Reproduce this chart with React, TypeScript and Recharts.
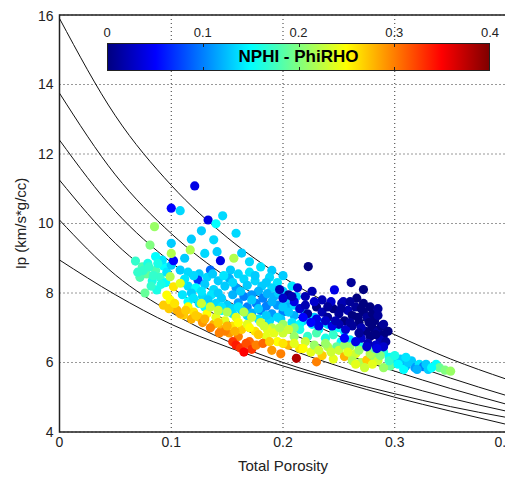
import React from "react";
import {
  ComposedChart,
  Line,
  Scatter,
  XAxis,
  YAxis,
  CartesianGrid,
  ReferenceArea,
} from "recharts";

// ---------- data ----------
const xTicks = [0, 0.1, 0.2, 0.3, 0.4];
const yTicks = [4, 6, 8, 10, 12, 14, 16];
const colorbarTicks = [0, 0.1, 0.2, 0.3, 0.4];

const curveX = [0, 0.05, 0.1, 0.15, 0.2, 0.25, 0.3, 0.35, 0.4];
const curve1 = [15.9, 13.1, 11.1, 9.6, 8.45, 7.55, 6.8, 6.1, 5.52];
const curve2 = [13.75, 11.4, 9.71, 8.45, 7.52, 6.76, 6.12, 5.55, 5.05];
const curve3 = [12.4, 10.35, 8.88, 7.78, 6.93, 6.3, 5.75, 5.25, 4.8];
const curve4 = [11.25, 9.43, 8.16, 7.2, 6.46, 5.89, 5.41, 4.97, 4.6];
const curve5 = [10.1, 8.52, 7.44, 6.62, 6.0, 5.51, 5.1, 4.73, 4.42];
const curve6 = [8.95, 7.95, 7.1, 6.45, 5.9, 5.45, 5.0, 4.6, 4.22];

// [porosity, Ip, NPHI-PhiRHO]
const greenLeft = [
  [0.068, 8.92, 0.17], [0.074, 8.75, 0.18], [0.079, 8.85, 0.16], [0.086, 8.65, 0.18],
  [0.078, 8.55, 0.19], [0.093, 8.78, 0.15], [0.09, 8.45, 0.17], [0.072, 8.45, 0.18],
  [0.083, 8.35, 0.16], [0.096, 8.6, 0.14], [0.0765, 8.0, 0.19], [0.087, 8.09, 0.16],
  [0.082, 8.2, 0.17], [0.095, 8.3, 0.15], [0.099, 8.47, 0.22], [0.092, 8.95, 0.14],
  [0.086, 9.05, 0.15], [0.1, 8.8, 0.13], [0.075, 8.65, 0.17], [0.08, 8.75, 0.17],
  [0.088, 8.85, 0.16], [0.084, 8.5, 0.17], [0.091, 8.25, 0.16], [0.07, 8.6, 0.17],
];

const upperScatter = [
  [0.121, 11.08, 0.04], [0.1, 10.44, 0.05], [0.108, 10.37, 0.135], [0.133, 10.1, 0.04],
  [0.146, 10.22, 0.135], [0.14, 9.99, 0.15], [0.085, 9.91, 0.21], [0.158, 9.72, 0.135],
  [0.127, 9.79, 0.13], [0.118, 9.55, 0.13], [0.138, 9.53, 0.135], [0.1, 9.43, 0.13],
  [0.081, 9.38, 0.2], [0.117, 9.24, 0.22], [0.13, 9.14, 0.135], [0.141, 9.19, 0.13],
  [0.156, 9.0, 0.22], [0.144, 8.93, 0.04], [0.102, 8.93, 0.05], [0.1, 9.14, 0.22],
  [0.112, 9.0, 0.13], [0.108, 8.66, 0.13], [0.135, 8.66, 0.09], [0.153, 8.66, 0.13],
  [0.17, 8.9, 0.135], [0.163, 9.15, 0.13], [0.18, 8.75, 0.14], [0.19, 8.65, 0.13],
  [0.175, 8.35, 0.135], [0.181, 8.2, 0.13],
];

const cyanMain = [
  [0.115, 8.6, 0.135], [0.125, 8.55, 0.13], [0.16, 8.55, 0.135], [0.17, 8.6, 0.14], [0.2, 8.5, 0.13],
  [0.112, 8.4, 0.14], [0.124, 8.37, 0.07], [0.132, 8.45, 0.135], [0.142, 8.35, 0.13],
  [0.152, 8.42, 0.12], [0.165, 8.4, 0.135], [0.188, 8.45, 0.135], [0.195, 8.3, 0.14],
  [0.115, 8.2, 0.135], [0.122, 8.15, 0.15], [0.13, 8.25, 0.13], [0.138, 8.1, 0.135],
  [0.148, 8.2, 0.13], [0.158, 8.15, 0.11], [0.168, 8.22, 0.13], [0.178, 8.05, 0.12],
  [0.19, 8.15, 0.135], [0.2, 8.05, 0.13], [0.208, 8.2, 0.14],
  [0.11, 7.95, 0.14], [0.118, 8.0, 0.13], [0.128, 7.9, 0.135], [0.136, 7.95, 0.14],
  [0.145, 7.85, 0.13], [0.155, 7.95, 0.12], [0.165, 7.9, 0.1], [0.172, 7.95, 0.11],
  [0.182, 7.85, 0.1], [0.192, 7.9, 0.12], [0.202, 7.8, 0.13], [0.212, 7.9, 0.135],
  [0.115, 7.75, 0.15], [0.125, 7.7, 0.14], [0.133, 7.8, 0.13], [0.14, 7.7, 0.135],
  [0.15, 7.65, 0.13], [0.16, 7.72, 0.11], [0.168, 7.6, 0.1], [0.176, 7.7, 0.1],
  [0.185, 7.62, 0.1], [0.195, 7.65, 0.11], [0.205, 7.6, 0.12], [0.215, 7.55, 0.13],
  [0.145, 7.5, 0.15], [0.155, 7.4, 0.14], [0.163, 7.5, 0.13], [0.172, 7.42, 0.12],
  [0.18, 7.5, 0.1], [0.19, 7.4, 0.11], [0.2, 7.45, 0.1], [0.21, 7.35, 0.12],
  [0.22, 7.4, 0.135], [0.228, 7.3, 0.13],
  [0.178, 7.25, 0.14], [0.188, 7.2, 0.135], [0.198, 7.25, 0.13], [0.208, 7.15, 0.14],
  [0.218, 7.2, 0.13], [0.226, 7.1, 0.14], [0.235, 7.15, 0.135], [0.245, 7.0, 0.14],
  [0.232, 6.95, 0.15], [0.255, 6.9, 0.14],
];

const cyanFill = [
  [0.12, 8.5, 0.135], [0.137, 8.55, 0.13], [0.147, 8.5, 0.14], [0.175, 8.5, 0.13],
  [0.185, 8.3, 0.13], [0.155, 8.3, 0.135], [0.127, 8.05, 0.14], [0.142, 8.0, 0.13],
  [0.162, 8.05, 0.13], [0.186, 7.98, 0.12], [0.196, 8.0, 0.13], [0.12, 7.85, 0.14],
  [0.13, 7.6, 0.15], [0.145, 7.6, 0.14], [0.155, 7.55, 0.135], [0.172, 7.8, 0.13],
  [0.19, 7.75, 0.12], [0.2, 7.6, 0.13], [0.21, 7.65, 0.135], [0.168, 7.35, 0.135],
  [0.185, 7.35, 0.13], [0.195, 7.3, 0.135], [0.205, 7.45, 0.13], [0.215, 7.1, 0.15],
  [0.225, 7.25, 0.135], [0.24, 7.1, 0.14], [0.25, 7.0, 0.15], [0.16, 7.6, 0.14],
  [0.178, 7.55, 0.13], [0.11, 8.3, 0.14],
];

const orangeLeft = [
  [0.093, 7.65, 0.27], [0.096, 7.94, 0.25], [0.105, 7.51, 0.28], [0.111, 7.37, 0.27],
  [0.102, 8.18, 0.26], [0.108, 8.28, 0.24], [0.099, 7.8, 0.25], [0.115, 7.6, 0.25],
  [0.12, 7.45, 0.26], [0.118, 7.25, 0.28], [0.125, 7.3, 0.27], [0.128, 7.15, 0.29],
  [0.132, 7.4, 0.25], [0.138, 7.1, 0.28], [0.14, 7.3, 0.24], [0.145, 6.95, 0.28],
  [0.148, 7.2, 0.24], [0.152, 6.85, 0.29], [0.155, 7.05, 0.26], [0.135, 7.6, 0.23],
  [0.127, 7.7, 0.23], [0.142, 7.5, 0.23], [0.15, 7.45, 0.22], [0.158, 7.3, 0.24],
  [0.16, 6.75, 0.3], [0.163, 6.95, 0.27], [0.168, 7.1, 0.24], [0.17, 6.6, 0.31],
  [0.098, 7.55, 0.27], [0.103, 7.7, 0.26], [0.108, 7.4, 0.28], [0.113, 7.5, 0.27],
  [0.122, 7.35, 0.27], [0.13, 7.25, 0.28], [0.135, 7.0, 0.3], [0.142, 7.15, 0.27],
  [0.148, 6.9, 0.3], [0.15, 7.05, 0.28], [0.157, 6.9, 0.28], [0.143, 6.85, 0.3],
  [0.155, 6.6, 0.33], [0.158, 6.5, 0.34], [0.162, 6.42, 0.33], [0.167, 6.55, 0.32],
  [0.172, 6.38, 0.33], [0.176, 6.5, 0.3], [0.165, 6.3, 0.35],
];

const yellowBand = [
  [0.175, 6.9, 0.26], [0.18, 7.15, 0.23], [0.185, 6.75, 0.24], [0.19, 7.0, 0.22],
  [0.195, 6.6, 0.25], [0.2, 6.85, 0.23], [0.205, 6.5, 0.28], [0.21, 6.75, 0.21],
  [0.212, 6.12, 0.38], [0.215, 6.4, 0.26], [0.22, 6.6, 0.23], [0.225, 6.3, 0.24],
  [0.23, 6.02, 0.3], [0.228, 6.5, 0.21], [0.235, 6.2, 0.27], [0.24, 6.45, 0.22],
  [0.245, 6.1, 0.24], [0.25, 6.35, 0.23], [0.255, 6.17, 0.28], [0.26, 6.45, 0.21],
  [0.265, 6.25, 0.24], [0.27, 6.0, 0.22], [0.275, 6.07, 0.27], [0.28, 6.2, 0.21],
  [0.182, 6.55, 0.31], [0.19, 6.35, 0.29], [0.198, 6.25, 0.3], [0.186, 6.95, 0.24],
  [0.2, 7.1, 0.21], [0.21, 7.0, 0.2], [0.172, 7.3, 0.23], [0.165, 7.45, 0.22],
  [0.16, 7.15, 0.25], [0.17, 7.0, 0.25], [0.178, 6.8, 0.27], [0.183, 7.05, 0.23],
  [0.192, 6.85, 0.24], [0.197, 7.0, 0.22], [0.205, 6.95, 0.23], [0.188, 6.6, 0.27],
  [0.2, 6.55, 0.26], [0.21, 6.55, 0.24], [0.218, 6.4, 0.25], [0.232, 6.35, 0.23],
  [0.238, 6.55, 0.21], [0.243, 6.3, 0.23], [0.255, 6.5, 0.21], [0.262, 6.2, 0.23],
];

const tealMid = [
  [0.215, 6.95, 0.16], [0.222, 6.75, 0.17], [0.23, 6.85, 0.18], [0.238, 6.7, 0.16],
  [0.245, 6.8, 0.17], [0.252, 6.6, 0.15], [0.248, 6.45, 0.19], [0.26, 6.65, 0.14],
  [0.268, 6.5, 0.16],
];

const lowerRight = [
  [0.258, 6.3, 0.24], [0.262, 6.05, 0.22], [0.268, 6.35, 0.21], [0.278, 6.25, 0.22],
  [0.285, 6.05, 0.23], [0.282, 6.4, 0.19], [0.29, 6.3, 0.16], [0.295, 6.15, 0.15],
  [0.3, 6.0, 0.14], [0.296, 5.9, 0.19], [0.305, 6.1, 0.13], [0.31, 5.9, 0.12],
  [0.315, 6.05, 0.13], [0.318, 5.85, 0.11], [0.322, 5.95, 0.14], [0.3255, 5.88, 0.1],
  [0.33, 5.8, 0.13], [0.337, 5.95, 0.15], [0.34, 5.85, 0.19], [0.345, 5.78, 0.2],
  [0.35, 5.75, 0.21], [0.308, 5.8, 0.15], [0.29, 5.85, 0.21], [0.28, 5.95, 0.24],
  [0.273, 5.85, 0.23], [0.295, 6.05, 0.17], [0.303, 5.95, 0.15], [0.312, 6.0, 0.13],
  [0.32, 5.8, 0.12], [0.328, 5.95, 0.13], [0.333, 5.85, 0.15], [0.287, 6.2, 0.2],
  [0.3, 6.2, 0.16], [0.265, 5.95, 0.24], [0.31, 6.15, 0.14],
];

const navy = [
  [0.2226, 8.76, 0.0], [0.246, 8.09, 0.04], [0.2525, 7.7, 0.01], [0.261, 8.3, 0.01],
  [0.272, 8.1, 0.0], [0.254, 7.75, 0.02], [0.266, 7.85, 0.0],
  [0.197, 8.1, 0.02], [0.205, 7.95, 0.01], [0.213, 8.15, 0.03], [0.22, 7.9, 0.02],
  [0.226, 8.05, 0.02], [0.21, 7.75, 0.04], [0.2, 7.85, 0.03],
  [0.215, 7.55, 0.03], [0.222, 7.4, 0.01], [0.23, 7.6, 0.0], [0.235, 7.45, 0.02],
  [0.24, 7.3, 0.01], [0.245, 7.55, 0.0], [0.25, 7.4, 0.01], [0.255, 7.2, 0.0],
  [0.258, 7.5, 0.02], [0.262, 7.35, 0.0], [0.265, 7.6, 0.01], [0.268, 7.15, 0.0],
  [0.272, 7.45, 0.0], [0.275, 7.3, 0.01], [0.278, 7.6, 0.0], [0.28, 7.0, 0.0],
  [0.282, 7.2, 0.0], [0.285, 6.9, 0.01], [0.288, 7.05, 0.0], [0.29, 6.8, 0.0],
  [0.287, 6.65, 0.02], [0.292, 6.6, 0.01], [0.283, 6.5, 0.03], [0.278, 6.75, 0.0],
  [0.274, 6.9, 0.0], [0.27, 7.0, 0.02], [0.262, 7.05, 0.01], [0.256, 6.95, 0.03],
  [0.25, 7.1, 0.02], [0.244, 7.05, 0.04], [0.238, 7.2, 0.03], [0.23, 7.25, 0.04],
  [0.225, 7.15, 0.05], [0.218, 7.3, 0.05], [0.27, 6.7, 0.03], [0.276, 6.55, 0.02],
  [0.265, 6.6, 0.04], [0.255, 6.7, 0.05], [0.26, 7.75, 0.01], [0.272, 7.7, 0.0],
  [0.28, 7.4, 0.0], [0.235, 7.8, 0.02], [0.243, 7.75, 0.03], [0.29, 6.45, 0.03],
  [0.284, 6.4, 0.04], [0.232, 7.05, 0.04], [0.247, 7.2, 0.02], [0.252, 7.55, 0.01],
  [0.26, 7.15, 0.01], [0.267, 7.3, 0.0], [0.277, 7.15, 0.0], [0.285, 7.35, 0.01],
  [0.29, 7.1, 0.01], [0.294, 6.9, 0.0], [0.283, 6.8, 0.0], [0.275, 6.45, 0.03],
  [0.268, 6.85, 0.01], [0.24, 7.6, 0.01], [0.228, 7.75, 0.03], [0.22, 7.65, 0.02],
  [0.208, 7.9, 0.02], [0.27, 7.55, 0.0], [0.285, 7.55, 0.01],
];

// ---------- helpers ----------
const toCurve = (ys: number[]) => curveX.map((x, i) => ({ x, y: ys[i] }));
const toPts = (arr: number[][]) => arr.map(([x, y, v]) => ({ x, y, v }));

const clamp = (t: number) => Math.max(0, Math.min(1, t));
function jet(val: number): string {
  const t = clamp(val / 0.4);
  const r = clamp(1.5 - Math.abs(4 * t - 3));
  const g = clamp(1.5 - Math.abs(4 * t - 2));
  const b = clamp(1.5 - Math.abs(4 * t - 1));
  return `rgb(${Math.round(r * 255)},${Math.round(g * 255)},${Math.round(b * 255)})`;
}

const Dot = (p: any) => {
  if (p.cx == null || p.cy == null) return null;
  return <circle cx={p.cx} cy={p.cy} r={4.6} fill={jet(p.payload.v)} />;
};

const FONT = "'Liberation Sans', Arial, Helvetica, sans-serif";
const TXT = "#222";

const curves = [curve1, curve2, curve3, curve4, curve5, curve6];
const groups = [greenLeft, upperScatter, cyanMain, cyanFill, tealMid, orangeLeft, yellowBand, lowerRight, navy];

const W = 505;
const H = 469;

export default function App() {
  return (
    <div style={{ position: "relative", width: W, height: H, background: "#fff" }}>
      <ComposedChart
        width={W}
        height={H}
        margin={{ top: 7, right: 6.5, bottom: 0, left: 11.5 }}
      >
        <CartesianGrid stroke="#333" strokeDasharray="1 3" />
        <XAxis
          type="number"
          dataKey="x"
          domain={[0, 0.4]}
          ticks={xTicks}
          allowDataOverflow
          height={45}
          tickLine={false}
          axisLine={false}
          tickSize={0}
          tickMargin={5}
          tick={{ fontFamily: FONT, fontSize: 14, fill: TXT }}
          label={{
            content: (props: any) => {
              const vb = props.viewBox || { x: 0, y: 0, width: 0, height: 0 };
              return (
                <text
                  x={vb.x + vb.width / 2}
                  y={vb.y + 33}
                  textAnchor="middle"
                  dominantBaseline="central"
                  fontFamily={FONT}
                  fontSize={15}
                  fill={TXT}
                >
                  Total Porosity
                </text>
              );
            },
          }}
        />
        <YAxis
          type="number"
          dataKey="y"
          domain={[4, 16]}
          ticks={yTicks}
          allowDataOverflow
          width={40}
          tickLine={false}
          axisLine={false}
          tickSize={0}
          tickMargin={6}
          tick={{ fontFamily: FONT, fontSize: 14, fill: TXT }}
          label={{
            content: (props: any) => {
              const vb = props.viewBox || { x: 0, y: 0, width: 0, height: 0 };
              const cx = vb.x + 0.5;
              const cy = vb.y + vb.height / 2;
              return (
                <text
                  x={cx}
                  y={cy}
                  transform={`rotate(-90 ${cx} ${cy})`}
                  textAnchor="middle"
                  dominantBaseline="central"
                  fontFamily={FONT}
                  fontSize={15}
                  fill={TXT}
                >
                  Ip (km/s*g/cc)
                </text>
              );
            },
          }}
        />
        {curves.map((c, i) => (
          <Line
            key={"c" + i}
            data={toCurve(c)}
            dataKey="y"
            type="monotone"
            stroke="#111"
            strokeWidth={1}
            dot={false}
            activeDot={false}
            isAnimationActive={false}
          />
        ))}
        {groups.map((g, i) => (
          <Scatter
            key={"s" + i}
            data={toPts(g)}
            dataKey="y"
            shape={Dot}
            isAnimationActive={false}
          />
        ))}
        <ReferenceArea
          x1={0}
          x2={0.4}
          y1={4}
          y2={16}
          fill="none"
          fillOpacity={0}
          stroke="#222"
          strokeWidth={1.5}
          ifOverflow="visible"
        />
      </ComposedChart>
      {/* colorbar */}
      <div
        style={{
          position: "absolute",
          left: 99,
          top: 35,
          width: 383,
          height: 28,
          boxSizing: "border-box",
          border: "1px solid #222",
          background:
            "linear-gradient(to right, rgb(0,0,128) 0%, rgb(0,0,255) 12.5%, rgb(0,255,255) 37.5%, rgb(255,255,0) 62.5%, rgb(255,0,0) 87.5%, rgb(128,0,0) 100%)",
          display: "flex",
          alignItems: "center",
          justifyContent: "center",
          fontFamily: FONT,
          fontWeight: "bold",
          fontSize: 17,
          color: "#000",
        }}
      >
        NPHI - PhiRHO
        {colorbarTicks.slice(1, -1).map((t) => (
          <React.Fragment key={"k" + t}>
            <div
              style={{
                position: "absolute",
                left: `${(t / 0.4) * 100}%`,
                top: 0,
                width: 1,
                height: 3,
                background: "#222",
              }}
            />
            <div
              style={{
                position: "absolute",
                left: `${(t / 0.4) * 100}%`,
                bottom: 0,
                width: 1,
                height: 3,
                background: "#222",
              }}
            />
          </React.Fragment>
        ))}
      </div>
      {colorbarTicks.map((t) => (
        <div
          key={"l" + t}
          style={{
            position: "absolute",
            left: 99 + (t / 0.4) * 383,
            top: 17,
            transform: "translateX(-50%)",
            fontFamily: FONT,
            fontSize: 13,
            color: TXT,
            lineHeight: "16px",
          }}
        >
          {String(t)}
        </div>
      ))}
    </div>
  );
}
